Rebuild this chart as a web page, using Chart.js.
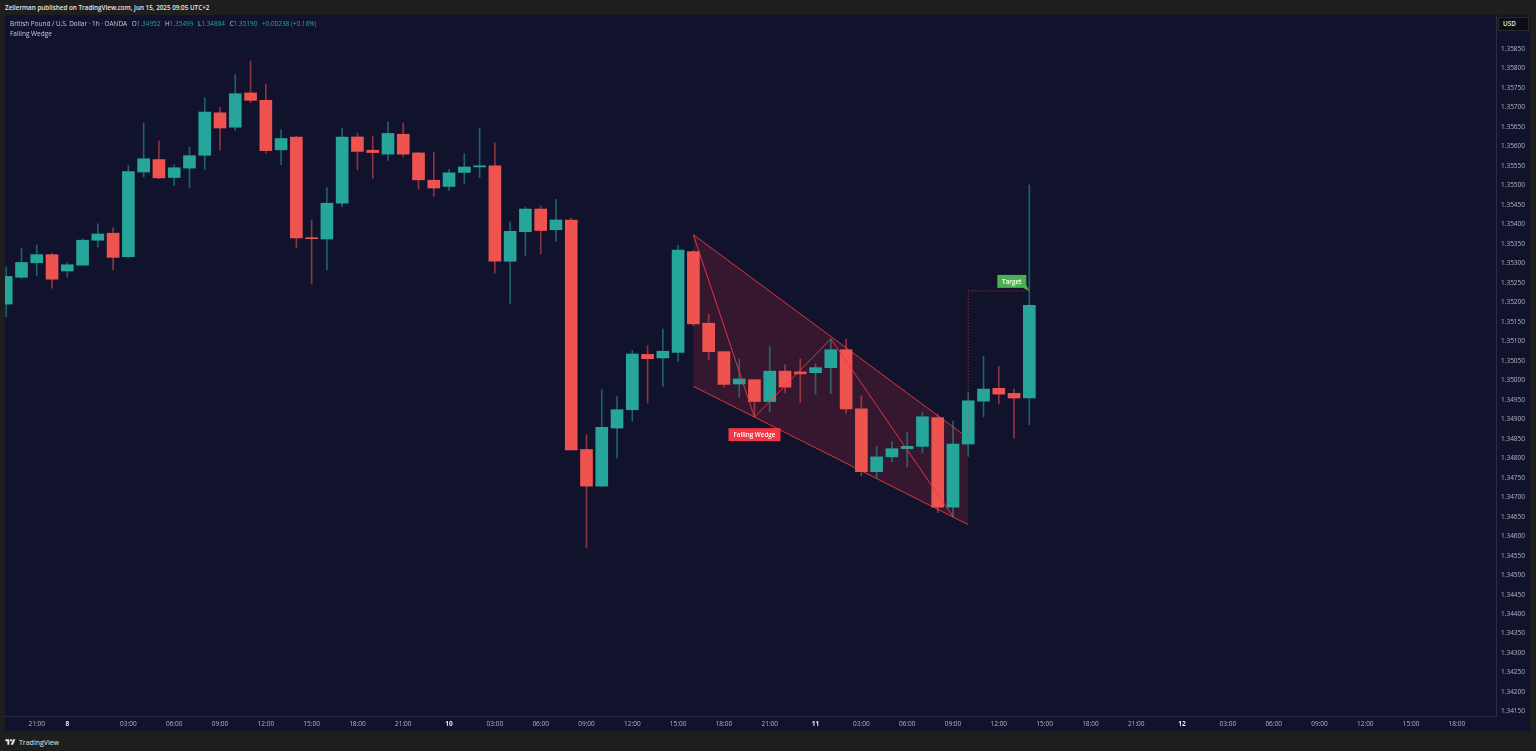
<!DOCTYPE html>
<html>
<head>
<meta charset="utf-8">
<script src="https://cdn.jsdelivr.net/npm/chart.js@4.4.1/dist/chart.umd.min.js"></script>
<style>
  html, body { margin: 0; padding: 0; width: 1536px; height: 751px; overflow: hidden; background: #1e1e1e; font-family: "Open Sans", sans-serif; }
  #pane { position: absolute; left: 5px; top: 15px; width: 1525px; height: 716px; background: #11122c; }
  #chart { position: absolute; left: 5px; top: 15px; }
  #published { position: absolute; left: 5px; top: 3px; font-size: 6.3px; font-weight: 600; color: #e6e6e6; white-space: nowrap; }
  #legend { position: absolute; left: 10px; top: 19px; font-size: 6.4px; color: #c9ccd6; white-space: nowrap; }
  #legend .v { color: #26a69a; }
  #legend .g { margin-left: 3px; }
  #study { position: absolute; left: 10px; top: 29px; font-size: 6.5px; color: #c9ccd6; }
  #usd { position: absolute; left: 1498px; top: 17px; width: 31px; height: 14px; background: #0e0e12; border: 1px solid #2a2a33; box-sizing: border-box; color: #e6e6e6; font-size: 6.3px; font-weight: 600; line-height: 12px; padding-left: 4px; }
  #brand { position: absolute; left: 5px; top: 736px; height: 12px; display: flex; align-items: center; color: #e6e6e6; font-size: 7px; }
  #brand svg { margin-right: 3px; }
</style>
</head>
<body>
<div id="pane"></div>
<canvas id="chart" width="1525" height="716"></canvas>
<div id="published">Zellerman published on TradingView.com, Jun 15, 2025 09:05 UTC+2</div>
<div id="legend">British Pound / U.S. Dollar · 1h · OANDA <span class="g">O</span><span class="v">1.34952</span> <span class="g">H</span><span class="v">1.35499</span> <span class="g">L</span><span class="v">1.34884</span> <span class="g">C</span><span class="v">1.35190</span> <span class="v g">+0.00238 (+0.18%)</span></div>
<div id="study">Falling Wedge</div>
<div id="usd">USD</div>
<div id="brand"><svg width="11" height="8" viewBox="0 0 36 28"><path d="M14 24H7V11H0V4h14z" fill="#e6e6e6"/><circle cx="20" cy="8" r="4" fill="#e6e6e6"/><path d="M27 24h-8l8-20h8z" fill="#e6e6e6"/></svg>TradingView</div>
<script>
// GBPUSD 1h, candle index 0 .. 67 (one per hour)
const opens = [1.35193, 1.35262, 1.35299, 1.35320, 1.35278, 1.35293, 1.35357, 1.35375, 1.35315, 1.35532,
  1.35564, 1.35518, 1.35542, 1.35575, 1.35684, 1.35647, 1.35735, 1.35716, 1.35589, 1.35622,
  1.35363, 1.35360, 1.35452, 1.35622, 1.35588, 1.35578, 1.35629, 1.35581, 1.35511, 1.35495,
  1.35531, 1.35545, 1.35548, 1.35303, 1.35379, 1.35437, 1.35384, 1.35409, 1.34820, 1.34726,
  1.34875, 1.34922, 1.35064, 1.35055, 1.35069, 1.35328, 1.35144, 1.35071, 1.34988, 1.34999,
  1.34943, 1.35021, 1.35019, 1.35017, 1.35030, 1.35076, 1.34924, 1.34763, 1.34801, 1.34822,
  1.34828, 1.34902, 1.34672, 1.34834, 1.34944, 1.34977, 1.34964, 1.34952];
const highs = [1.35289, 1.35336, 1.35345, 1.35324, 1.35300, 1.35361, 1.35399, 1.35389, 1.35549, 1.35658,
  1.35612, 1.35551, 1.35595, 1.35723, 1.35698, 1.35782, 1.35817, 1.35758, 1.35640, 1.35623,
  1.35409, 1.35492, 1.35644, 1.35632, 1.35623, 1.35660, 1.35658, 1.35583, 1.35582, 1.35539,
  1.35579, 1.35644, 1.35606, 1.35404, 1.35442, 1.35445, 1.35462, 1.35414, 1.34858, 1.34973,
  1.34956, 1.35074, 1.35086, 1.35129, 1.35344, 1.35331, 1.35167, 1.35072, 1.35052, 1.35000,
  1.35084, 1.35037, 1.35052, 1.35040, 1.35103, 1.35103, 1.34958, 1.34828, 1.34840, 1.34863,
  1.34915, 1.34911, 1.34893, 1.34965, 1.35059, 1.35033, 1.34975, 1.35499];
const lows = [1.35161, 1.35259, 1.35266, 1.35234, 1.35262, 1.35293, 1.35339, 1.35281, 1.35313, 1.35519,
  1.35515, 1.35497, 1.35491, 1.35538, 1.35588, 1.35639, 1.35710, 1.35581, 1.35551, 1.35338,
  1.35245, 1.35281, 1.35443, 1.35538, 1.35516, 1.35562, 1.35572, 1.35488, 1.35470, 1.35485,
  1.35501, 1.35518, 1.35273, 1.35195, 1.35318, 1.35322, 1.35354, 1.34818, 1.34567, 1.34724,
  1.34798, 1.34892, 1.34939, 1.34982, 1.35046, 1.35137, 1.35050, 1.34980, 1.34954, 1.34905,
  1.34917, 1.34965, 1.34940, 1.34963, 1.34963, 1.34913, 1.34752, 1.34746, 1.34788, 1.34775,
  1.34811, 1.34658, 1.34646, 1.34802, 1.34903, 1.34937, 1.34849, 1.34884];
const closes = [1.35264, 1.35300, 1.35320, 1.35257, 1.35294, 1.35357, 1.35373, 1.35313, 1.35533, 1.35566,
  1.35517, 1.35543, 1.35574, 1.35686, 1.35645, 1.35733, 1.35716, 1.35587, 1.35618, 1.35363,
  1.35361, 1.35452, 1.35622, 1.35585, 1.35582, 1.35631, 1.35578, 1.35512, 1.35491, 1.35530,
  1.35545, 1.35548, 1.35303, 1.35380, 1.35437, 1.35382, 1.35409, 1.34819, 1.34726, 1.34877,
  1.34922, 1.35065, 1.35053, 1.35072, 1.35332, 1.35142, 1.35071, 1.34987, 1.35001, 1.34943,
  1.35021, 1.34980, 1.35014, 1.35030, 1.35076, 1.34924, 1.34763, 1.34801, 1.34822, 1.34828,
  1.34904, 1.34672, 1.34834, 1.34945, 1.34975, 1.34962, 1.34952, 1.35190];

// time axis (candle index -> label)
const timeTickPos = [2, 4, 8, 11, 14, 17, 20, 23, 26, 29, 32, 35, 38, 41, 44, 47, 50, 53,
  56, 59, 62, 65, 68, 71, 74, 77, 80, 83, 86, 89, 92, 95];
const timeTickText = ["21:00", "8", "03:00", "06:00", "09:00", "12:00", "15:00", "18:00", "21:00", "10",
  "03:00", "06:00", "09:00", "12:00", "15:00", "18:00", "21:00", "11",
  "03:00", "06:00", "09:00", "12:00", "15:00", "18:00", "21:00", "12",
  "03:00", "06:00", "09:00", "12:00", "15:00", "18:00"];
const dayLabels = ["8", "10", "11", "12"];

const priceTicks = ["1.34150", "1.34200", "1.34250", "1.34300", "1.34350", "1.34400", "1.34450", "1.34500",
  "1.34550", "1.34600", "1.34650", "1.34700", "1.34750", "1.34800", "1.34850", "1.34900", "1.34950",
  "1.35000", "1.35050", "1.35100", "1.35150", "1.35200", "1.35250", "1.35300", "1.35350", "1.35400",
  "1.35450", "1.35500", "1.35550", "1.35600", "1.35650", "1.35700", "1.35750", "1.35800", "1.35850"];

// falling wedge drawing
const wedgeX = [45, 63];
const wedgeUpper = [1.35371, 1.34849];
const wedgeLower = [1.34982, 1.34627];
const zigzagX = [45, 49, 54, 62];
const zigzagY = [1.35371, 1.34903, 1.35104, 1.34648];
const targetX = [63, 67];
const targetPrice = 1.35227;

const UP = "#26a69a", DOWN = "#ef5350";
const UP_WICK = "rgba(38,166,154,0.55)", DOWN_WICK = "rgba(239,83,80,0.55)";
const WEDGE = "rgba(242,54,69,0.9)";

Chart.defaults.font.family = '"Open Sans", sans-serif';

const up = opens.map((o, i) => closes[i] >= o);
const pts = (xs, ys) => xs.map((x, i) => ({ x: x, y: ys[i] }));
const isDay = c => !!(c && c.tick && dayLabels.includes(c.tick.label));

const labelPlugin = {
  id: "drawLabels",
  afterDatasetsDraw(chart) {
    const { ctx, scales: { x, y } } = chart;
    ctx.save();
    ctx.font = '600 6.3px "Open Sans", sans-serif';
    ctx.textAlign = "center";
    ctx.textBaseline = "middle";
    // Falling Wedge tag under the first low
    let px = x.getPixelForValue(zigzagX[1]);
    let py = y.getPixelForValue(zigzagY[1]) + 11;
    ctx.fillStyle = "#f23645";
    ctx.fillRect(px - 26, py, 52, 13);
    ctx.fillStyle = "#fff";
    ctx.fillText("Falling Wedge", px, py + 7);
    // Target tag
    px = x.getPixelForValue(targetX[1]);
    py = y.getPixelForValue(targetPrice);
    ctx.fillStyle = "#4caf50";
    ctx.fillRect(px - 32, py - 16, 29, 13);
    ctx.beginPath();
    ctx.moveTo(px - 6, py - 3);
    ctx.lineTo(px, py);
    ctx.lineTo(px - 3, py - 6);
    ctx.fill();
    ctx.fillStyle = "#fff";
    ctx.fillText("Target", px - 17.5, py - 9);
    ctx.restore();
  }
};

new Chart(document.getElementById("chart"), {
  type: "bar",
  data: {
    datasets: [
      {
        type: "line",
        data: pts(wedgeX, wedgeUpper),
        borderColor: WEDGE,
        borderWidth: 1,
        pointRadius: 0,
        fill: "+1",
        backgroundColor: "rgba(242,54,69,0.16)",
        order: 10,
      },
      {
        type: "line",
        data: pts(wedgeX, wedgeLower),
        borderColor: WEDGE,
        borderWidth: 1,
        pointRadius: 0,
        fill: false,
        order: 10,
      },
      {
        // wicks
        data: opens.map((o, i) => ({ x: i, y: [lows[i], highs[i]] })),
        backgroundColor: up.map(u => (u ? UP_WICK : DOWN_WICK)),
        barThickness: 1,
        grouped: false,
        order: 6,
      },
      {
        // bodies
        data: opens.map((o, i) => ({ x: i, y: [o, closes[i]] })),
        backgroundColor: up.map(u => (u ? UP : DOWN)),
        barThickness: 12,
        minBarLength: 1,
        grouped: false,
        order: 5,
      },
      {
        type: "line",
        data: pts(zigzagX, zigzagY),
        borderColor: WEDGE,
        borderWidth: 1,
        pointRadius: 0,
        fill: false,
        order: 1,
      },
      {
        type: "line",
        data: [
          { x: targetX[1], y: targetPrice },
          { x: targetX[0], y: targetPrice },
          { x: targetX[0], y: wedgeUpper[1] },
        ],
        borderColor: "rgba(242,54,69,0.8)",
        borderWidth: 1,
        borderDash: [1, 2],
        pointRadius: 0,
        fill: false,
        order: 1,
      },
    ],
  },
  options: {
    responsive: false,
    animation: false,
    layout: { padding: 0 },
    plugins: {
      legend: { display: false },
      tooltip: { enabled: false },
    },
    scales: {
      x: {
        type: "linear",
        min: -0.08,
        max: 97.56,
        offset: false,
        grid: { display: false, drawTicks: false },
        border: { color: "#2a2d45" },
        afterBuildTicks: s => { s.ticks = timeTickPos.map(v => ({ value: v })); },
        afterFit: s => { s.height = 15; s.paddingLeft = 0; s.paddingRight = 0; },
        ticks: {
          autoSkip: false,
          maxRotation: 0,
          padding: 4,
          color: c => (isDay(c) ? "#e8e8ec" : "#b2b5be"),
          font: c => ({ size: 6.5, weight: isDay(c) ? "bold" : "normal" }),
          callback: v => timeTickText[timeTickPos.indexOf(v)],
        },
      },
      y: {
        position: "right",
        min: 1.34136,
        max: 1.35935,
        grid: { display: false, drawTicks: false },
        border: { color: "#2a2d45" },
        afterBuildTicks: s => { s.ticks = priceTicks.map(v => ({ value: Number(v) })); },
        afterFit: s => { s.width = 34; s.paddingTop = 0; s.paddingBottom = 0; },
        ticks: {
          padding: 5,
          labelOffset: 1,
          color: "#b2b5be",
          font: { size: 6.5 },
          callback: v => v.toFixed(5),
        },
      },
    },
  },
  plugins: [labelPlugin],
});
</script>
</body>
</html>
